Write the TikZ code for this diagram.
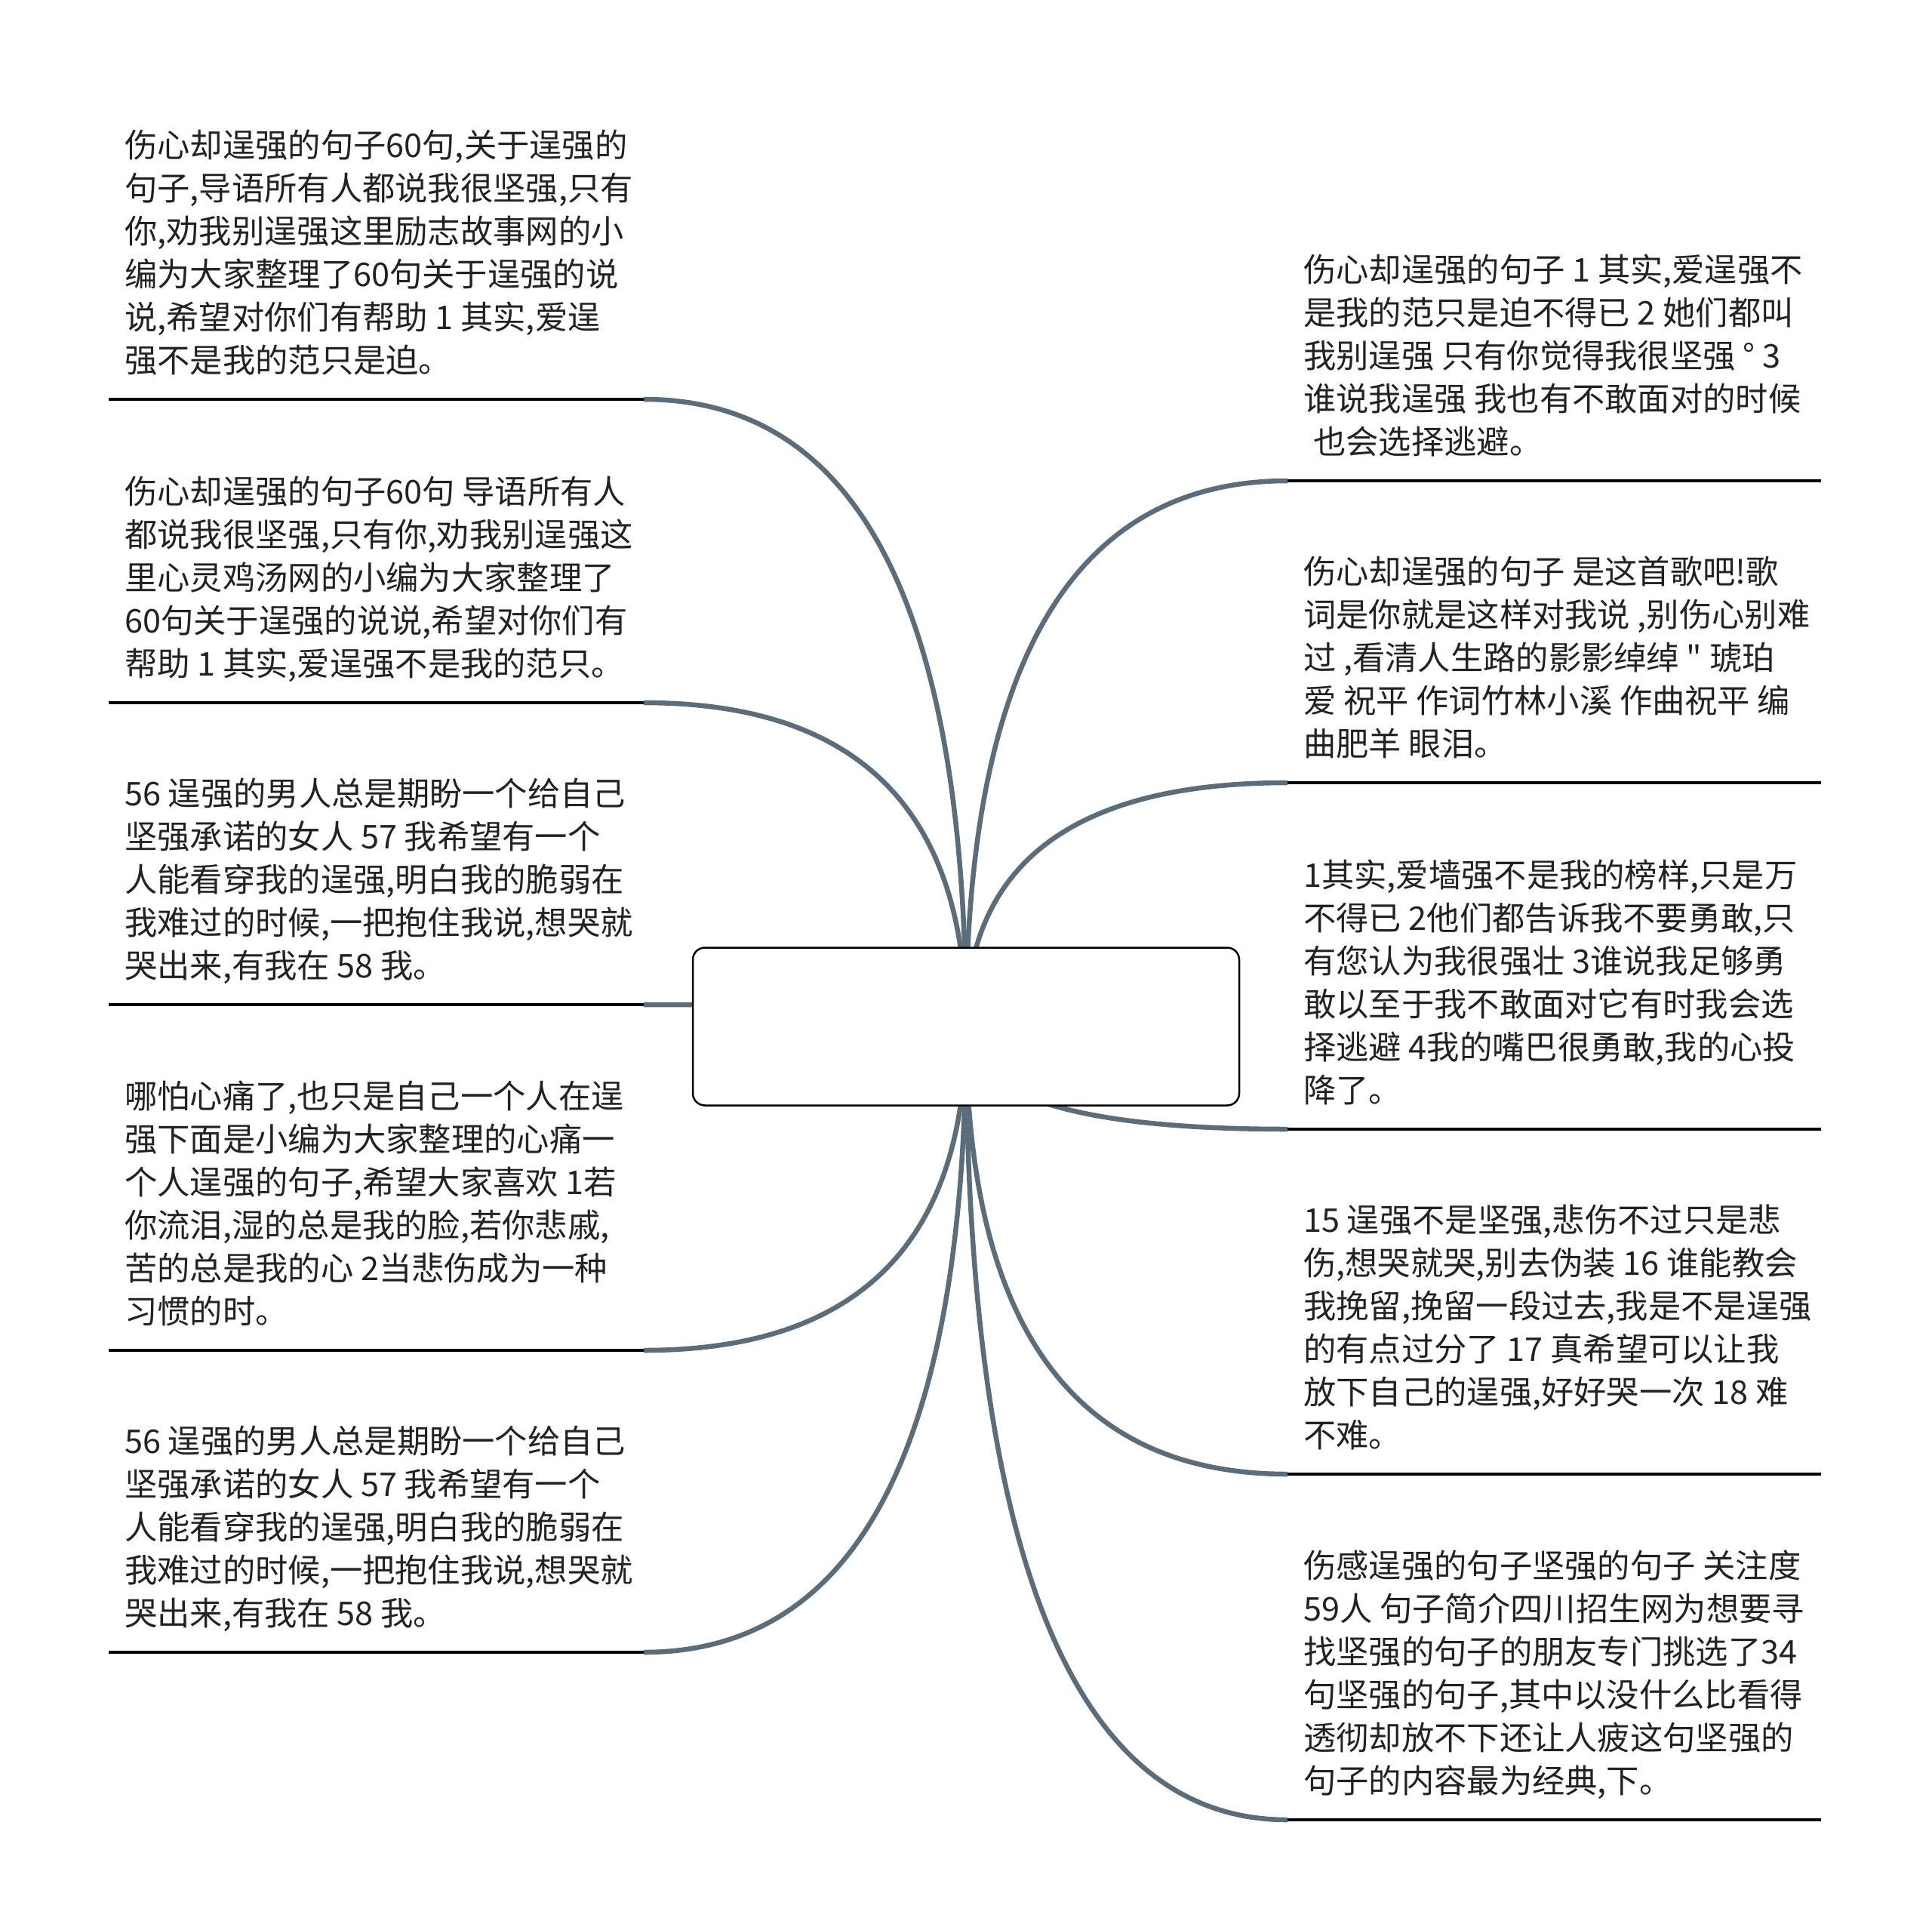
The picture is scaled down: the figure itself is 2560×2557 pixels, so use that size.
\documentclass[tikz,border=0pt]{standalone}
\usepackage{fontspec}
\newfontfamily\cjk{Noto Sans CJK SC}
\usetikzlibrary{calc}
\definecolor{conncol}{RGB}{91,108,122}
\definecolor{txtcol}{RGB}{34,34,34}
\tikzset{
  conn/.style={draw=conncol, line width=6.5pt},
  uline/.style={draw=black, line width=4.5pt},
  topic/.style={inner sep=0pt, anchor=base west, text=txtcol,
    font=\cjk\fontsize{43.3}{57}\selectfont},
  hubbox/.style={draw=black, line width=2.5pt, fill=white, rounded corners=16pt,
    minimum width=724pt, minimum height=209pt, inner sep=0pt}
}
\newcommand{\topictext}[1]{\parbox[t]{900pt}{\raggedright #1}}
\begin{document}
\begin{tikzpicture}[x=1pt,y=-1pt]
\useasboundingbox (0,0) rectangle (2560,2557);
% hub centre
\coordinate (hubc) at (1280,1360);
% underline end points
\coordinate (l1s) at (144,529);  \coordinate (l1e) at (853,529);
\coordinate (l2s) at (144,931);  \coordinate (l2e) at (853,931);
\coordinate (l3s) at (144,1331); \coordinate (l3e) at (853,1331);
\coordinate (l4s) at (144,1789); \coordinate (l4e) at (853,1789);
\coordinate (l5s) at (144,2189); \coordinate (l5e) at (853,2189);
\coordinate (r1s) at (1706,637);  \coordinate (r1e) at (2413,637);
\coordinate (r2s) at (1706,1037); \coordinate (r2e) at (2413,1037);
\coordinate (r3s) at (1706,1496); \coordinate (r3e) at (2413,1496);
\coordinate (r4s) at (1706,1953); \coordinate (r4e) at (2413,1953);
\coordinate (r5s) at (1706,2411); \coordinate (r5e) at (2413,2411);
% connectors
\foreach \e in {l1e,l2e,l3e,l4e,l5e,r1s,r2s,r3s,r4s,r5s}{
  \draw[conn] (hubc) .. controls ($(hubc)!0.6667!(hubc |- \e)$) and ($(\e)!0.6667!(hubc |- \e)$) .. (\e);
}
% underlines
\foreach \n in {l1,l2,l3,l4,l5,r1,r2,r3,r4,r5}{
  \draw[uline] (\n s) -- (\n e);
}
% central topic
\node[hubbox] (hub) at (hubc) {};
% left texts
\node[topic] (t1) at (165,208) {\topictext{伤心却逞强的句子60句,关于逞强的\\
句子,导语所有人都说我很坚强,只有\\
你,劝我别逞强这里励志故事网的小\\
编为大家整理了60句关于逞强的说\\
说,希望对你们有帮助 1 其实,爱逞\\
强不是我的范只是迫。}};
\node[topic] (t2) at (165,667) {\topictext{伤心却逞强的句子60句 导语所有人\\
都说我很坚强,只有你,劝我别逞强这\\
里心灵鸡汤网的小编为大家整理了\\
60句关于逞强的说说,希望对你们有\\
帮助 1 其实,爱逞强不是我的范只。}};
\node[topic] (t3) at (165,1067) {\topictext{56 逞强的男人总是期盼一个给自己\\
坚强承诺的女人 57 我希望有一个\\
人能看穿我的逞强,明白我的脆弱在\\
我难过的时候,一把抱住我说,想哭就\\
哭出来,有我在 58 我。}};
\node[topic] (t4) at (165,1468) {\topictext{哪怕心痛了,也只是自己一个人在逞\\
强下面是小编为大家整理的心痛一\\
个人逞强的句子,希望大家喜欢 1若\\
你流泪,湿的总是我的脸,若你悲戚,\\
苦的总是我的心 2当悲伤成为一种\\
习惯的时。}};
\node[topic] (t5) at (165,1925) {\topictext{56 逞强的男人总是期盼一个给自己\\
坚强承诺的女人 57 我希望有一个\\
人能看穿我的逞强,明白我的脆弱在\\
我难过的时候,一把抱住我说,想哭就\\
哭出来,有我在 58 我。}};
% right texts
\node[topic] (t6) at (1727,373) {\topictext{伤心却逞强的句子 1 其实,爱逞强不\\
是我的范只是迫不得已 2 她们都叫\\
我别逞强 只有你觉得我很坚强 ° 3\\
谁说我逞强 我也有不敢面对的时候\\
\hspace*{0.3em}也会选择逃避。}};
\node[topic] (t7) at (1727,773) {\topictext{伤心却逞强的句子 是这首歌吧!歌\\
词是你就是这样对我说 ,别伤心别难\\
过 ,看清人生路的影影绰绰 " 琥珀\\
爱 祝平 作词竹林小溪 作曲祝平 编\\
曲肥羊 眼泪。}};
\node[topic] (t8) at (1727,1175) {\topictext{1其实,爱墙强不是我的榜样,只是万\\
不得已 2他们都告诉我不要勇敢,只\\
有您认为我很强壮 3谁说我足够勇\\
敢以至于我不敢面对它有时我会选\\
择逃避 4我的嘴巴很勇敢,我的心投\\
降了。}};
\node[topic] (t9) at (1727,1632) {\topictext{15 逞强不是坚强,悲伤不过只是悲\\
伤,想哭就哭,别去伪装 16 谁能教会\\
我挽留,挽留一段过去,我是不是逞强\\
的有点过分了 17 真希望可以让我\\
放下自己的逞强,好好哭一次 18 难\\
不难。}};
\node[topic] (t10) at (1727,2090) {\topictext{伤感逞强的句子坚强的句子 关注度\\
59人 句子简介四川招生网为想要寻\\
找坚强的句子的朋友专门挑选了34\\
句坚强的句子,其中以没什么比看得\\
透彻却放不下还让人疲这句坚强的\\
句子的内容最为经典,下。}};
\end{tikzpicture}
\end{document}
